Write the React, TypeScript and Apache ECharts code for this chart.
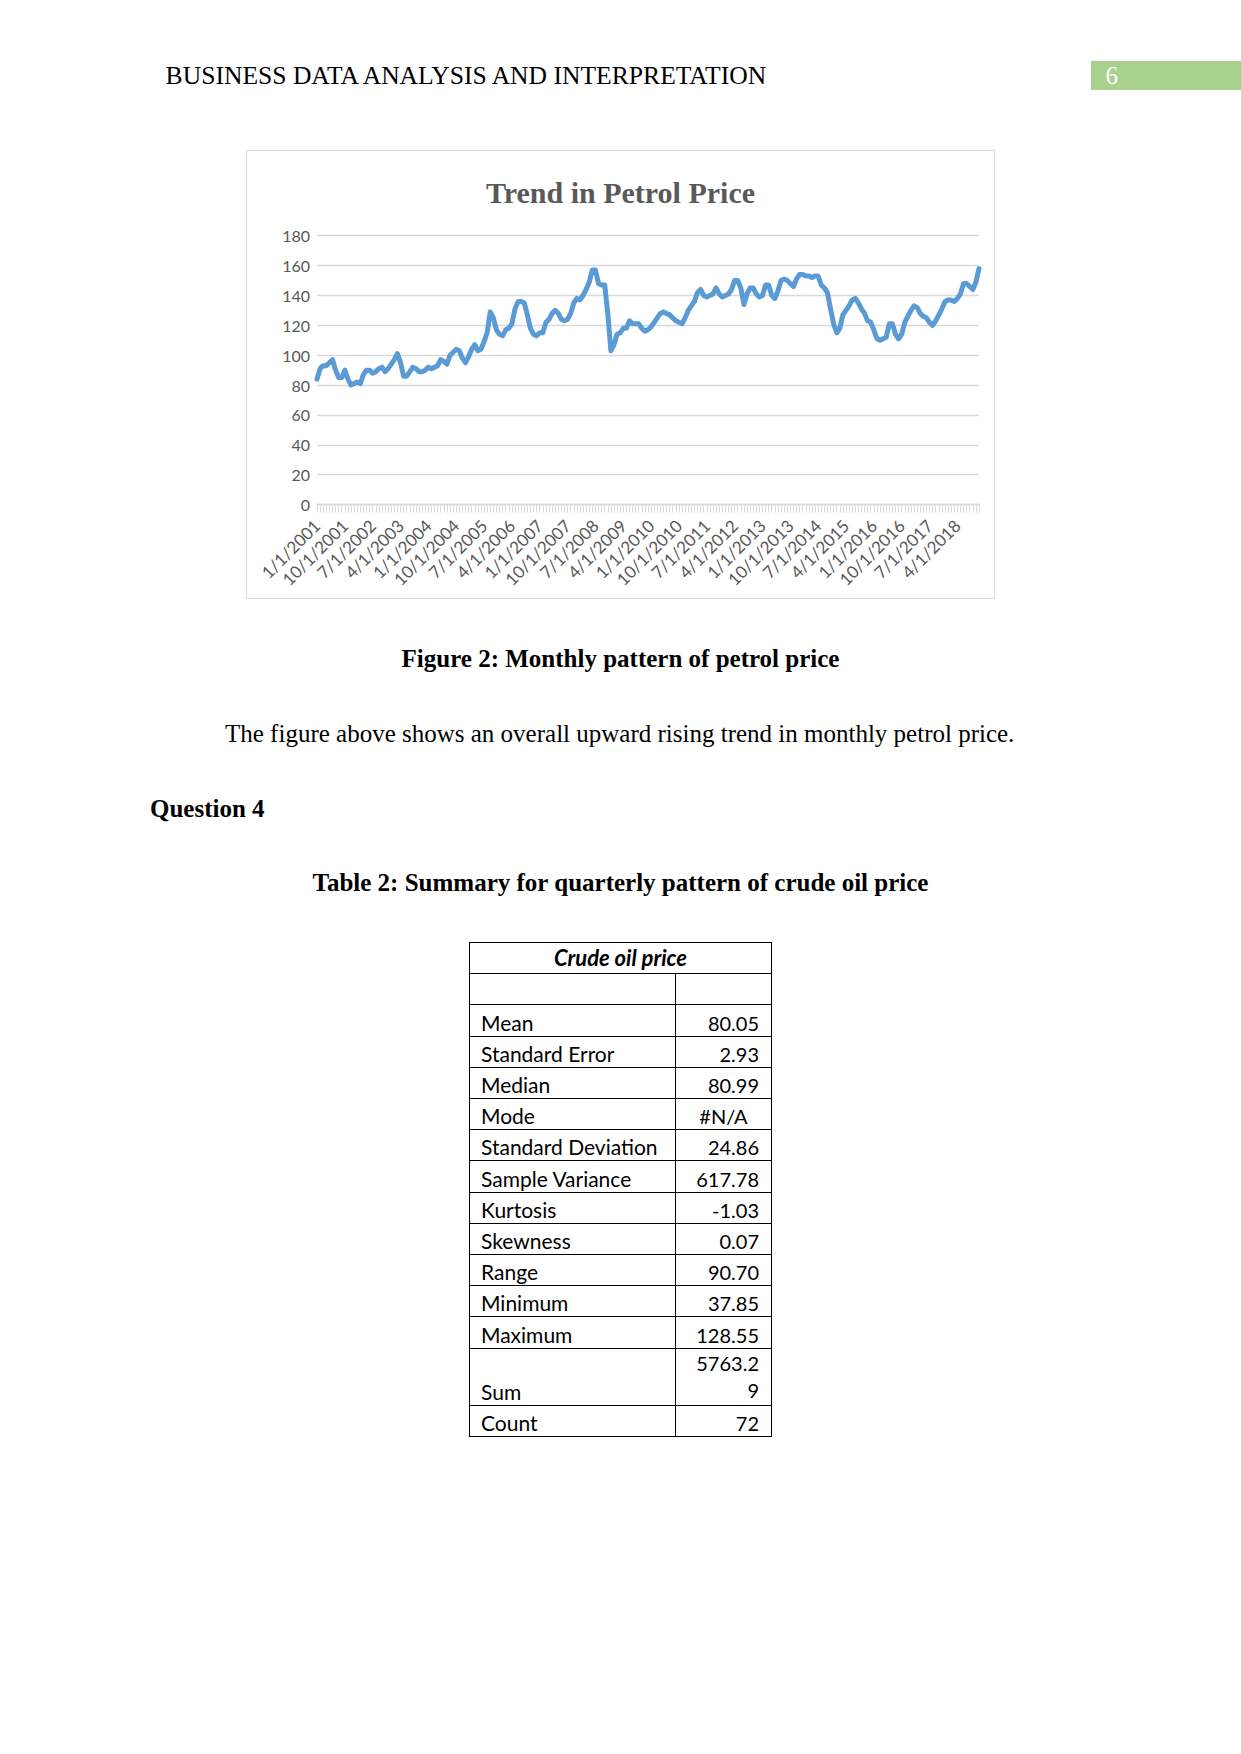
import React, { useEffect, useRef } from "react";
import * as echarts from "echarts";

// Monthly petrol price, Jan 2001 onwards
const petrolPrice: number[] = [
  84, 91, 93, 93, 95, 97, 90, 85, 85, 90,
  84, 80, 81, 82, 81, 87, 90, 90, 88, 89,
  91, 92, 89, 91, 94, 97, 101, 95, 86, 86,
  89, 92, 91, 89, 89, 90, 92, 91, 92, 93,
  97, 96, 94, 100, 102, 104, 103, 98, 95, 99,
  104, 107, 103, 104, 109, 115, 129, 125, 117, 114,
  113, 117, 118, 121, 131, 136, 136, 135, 127, 118,
  114, 113, 115, 115, 122, 124, 128, 130, 128, 124,
  123, 124, 128, 135, 138, 137, 140, 144, 149, 157,
  157, 148, 147, 147, 128, 103, 107, 114, 115, 118,
  118, 123, 121, 121, 121, 118, 116, 117, 119, 122,
  125, 128, 129, 128, 127, 125, 123, 122, 121, 125,
  130, 133, 136, 142, 144, 140, 139, 140, 141, 145,
  141, 139, 140, 141, 144, 150, 150, 145, 134, 141,
  145, 145, 141, 139, 140, 147, 147, 140, 138, 143,
  150, 151, 150, 148, 146, 151, 154, 154, 153, 153,
  152, 153, 153, 147, 145, 142, 131, 121, 115, 118,
  127, 130, 133, 137, 138, 135, 131, 128, 123, 122,
  117, 111, 110, 111, 112, 121, 121, 114, 111, 114,
  122, 126, 130, 133, 132, 128, 126, 125, 122, 120,
  123, 127, 131, 136, 137, 137, 136, 138, 141, 148,
  148, 146, 144, 149, 158,
];

// Category labels: first day of each month, M/1/YYYY
const categories: string[] = petrolPrice.map(
  (_, i) => `${(i % 12) + 1}/1/${2001 + Math.floor(i / 12)}`
);

const yMin = 0;
const yMax = 180;
const yStep = 20;

const chartTitle = "Trend in Petrol Price";

// Summary table (crude oil price)
const statLabels: string[] = [
  "Mean",
  "Standard Error",
  "Median",
  "Mode",
  "Standard Deviation",
  "Sample Variance",
  "Kurtosis",
  "Skewness",
  "Range",
  "Minimum",
  "Maximum",
  "Sum",
  "Count",
];
const statValues: string[] = [
  "80.05",
  "2.93",
  "80.99",
  "#N/A",
  "24.86",
  "617.78",
  "-1.03",
  "0.07",
  "90.70",
  "37.85",
  "128.55",
  "5763.29",
  "72",
];

const serif = "'Liberation Serif', 'Times New Roman', serif";
const sans = "Lato, 'Noto Sans', sans-serif";

function PetrolChart() {
  const ref = useRef<HTMLDivElement>(null);
  useEffect(() => {
    if (!ref.current) return;
    const chart = echarts.init(ref.current, null, { renderer: "svg" });
    chart.setOption({
      animation: false,
      title: {
        text: chartTitle,
        left: "center",
        top: 25,
        padding: 0,
        textStyle: {
          fontFamily: serif,
          fontWeight: "bold",
          fontSize: 30,
          lineHeight: 34,
          color: "#595959",
        },
      },
      grid: { left: 71, right: 16, top: 85.7, bottom: 94.4, containLabel: false },
      xAxis: {
        type: "category",
        data: categories,
        boundaryGap: false,
        axisLine: { show: true, lineStyle: { color: "#d9d9d9", width: 1.3 } },
        axisTick: {
          show: true,
          interval: 0,
          length: 8,
          lineStyle: { color: "#d9d9d9", width: 1 },
        },
        axisLabel: {
          interval: 8,
          rotate: 45,
          fontFamily: sans,
          fontSize: 17,
          color: "#595959",
          margin: 18,
        },
        splitLine: { show: false },
      },
      yAxis: {
        type: "value",
        min: yMin,
        max: yMax,
        interval: yStep,
        axisLine: { show: false },
        axisTick: { show: false },
        axisLabel: {
          fontFamily: sans,
          fontSize: 16,
          color: "#595959",
          margin: 7,
        },
        splitLine: { lineStyle: { color: "#d9d9d9", width: 1.3 } },
      },
      series: [
        {
          type: "line",
          data: petrolPrice,
          symbol: "none",
          showSymbol: false,
          lineStyle: { color: "#5b9bd5", width: 5, cap: "round", join: "round" },
          itemStyle: { color: "#5b9bd5" },
        },
      ],
      graphic: [
        {
          type: "rect",
          silent: true,
          shape: { x: 0.5, y: 0.5, width: 748, height: 448 },
          style: { fill: "none", stroke: "#d9d9d9", lineWidth: 1 },
        },
      ],
    });
    return () => chart.dispose();
  }, []);
  return (
    <div
      ref={ref}
      style={{ position: "absolute", left: 246, top: 150, width: 749, height: 449 }}
    />
  );
}

function SummaryTable() {
  const left = 469;
  const top = 942;
  const width = 303;
  const col1 = 206;
  const rowH = 31.2;
  const sumH = 56.9;
  const cells: React.ReactNode[] = [];
  const border = "1px solid #000";
  cells.push(
    <div
      key="h"
      style={{
        position: "absolute",
        left,
        top,
        width,
        height: 32,
        boxSizing: "border-box",
        border,
        display: "flex",
        alignItems: "flex-end",
        justifyContent: "center",
        fontFamily: sans,
        fontStyle: "italic",
        fontWeight: "bold",
        fontSize: 22,
        lineHeight: "26px",
        paddingBottom: 2,
      }}
    >
      Crude oil price
    </div>
  );
  let y = top + rowH;
  const rows: { label: string; value: string; h: number }[] = [
    { label: "", value: "", h: rowH },
  ];
  statLabels.forEach((l, i) => {
    rows.push({ label: l, value: statValues[i], h: l === "Sum" ? sumH : rowH });
  });
  rows.forEach((r, i) => {
    const isSum = r.label === "Sum";
    const isMode = r.value === "#N/A";
    const t = Math.round(y);
    const b = Math.round(y + r.h);
    const h = b - t + 1;
    cells.push(
      <div
        key={"l" + i}
        style={{
          position: "absolute",
          left,
          top: t,
          width: col1 + 1,
          height: h,
          boxSizing: "border-box",
          border,
          display: "flex",
          alignItems: "flex-end",
          paddingLeft: 11,
          paddingBottom: 1,
          fontFamily: sans,
          fontSize: 21,
          lineHeight: "24px",
          color: "#000",
        }}
      >
        {r.label}
      </div>
    );
    cells.push(
      <div
        key={"v" + i}
        style={{
          position: "absolute",
          left: left + col1,
          top: t,
          width: width - col1,
          height: h,
          boxSizing: "border-box",
          border,
          display: "flex",
          alignItems: "flex-end",
          justifyContent: isMode ? "center" : "flex-end",
          paddingRight: isMode ? 0 : 12,
          paddingBottom: 1,
          fontFamily: sans,
          fontSize: 20,
          lineHeight: isSum ? "27px" : "24px",
          color: "#000",
          textAlign: "right",
          whiteSpace: "pre",
        }}
      >
        {isSum ? "5763.2\n9" : r.value}
      </div>
    );
    y += r.h;
  });
  return <>{cells}</>;
}

export default function App() {
  useEffect(() => {
    document.body.style.margin = "0";
  }, []);
  const textBase: React.CSSProperties = {
    position: "absolute",
    fontFamily: serif,
    fontSize: 25,
    lineHeight: "28px",
    whiteSpace: "nowrap",
    color: "#000",
  };
  return (
    <div
      style={{
        position: "absolute",
        left: 0,
        top: 0,
        width: 1241,
        height: 1754,
        background: "#fff",
        overflow: "hidden",
      }}
    >
      <div style={{ ...textBase, left: 165.6, top: 61.6, fontSize: 25.6 }}>
        BUSINESS DATA ANALYSIS AND INTERPRETATION
      </div>
      <div
        style={{
          position: "absolute",
          left: 1091,
          top: 61,
          width: 150,
          height: 29,
          background: "#a9d18e",
        }}
      />
      <div style={{ ...textBase, left: 1105.6, top: 61.6, color: "#fff" }}>6</div>

      <PetrolChart />

      <div
        style={{
          ...textBase,
          left: 0,
          width: 1241,
          textAlign: "center",
          top: 645,
          fontWeight: "bold",
        }}
      >
        Figure 2: Monthly pattern of petrol price
      </div>
      <div style={{ ...textBase, left: 225, top: 720 }}>
        The figure above shows an overall upward rising trend in monthly petrol price.
      </div>
      <div style={{ ...textBase, left: 150, top: 795, fontWeight: "bold" }}>Question 4</div>
      <div
        style={{
          ...textBase,
          left: 0,
          width: 1241,
          textAlign: "center",
          top: 869,
          fontWeight: "bold",
        }}
      >
        Table 2: Summary for quarterly pattern of crude oil price
      </div>

      <SummaryTable />
    </div>
  );
}
